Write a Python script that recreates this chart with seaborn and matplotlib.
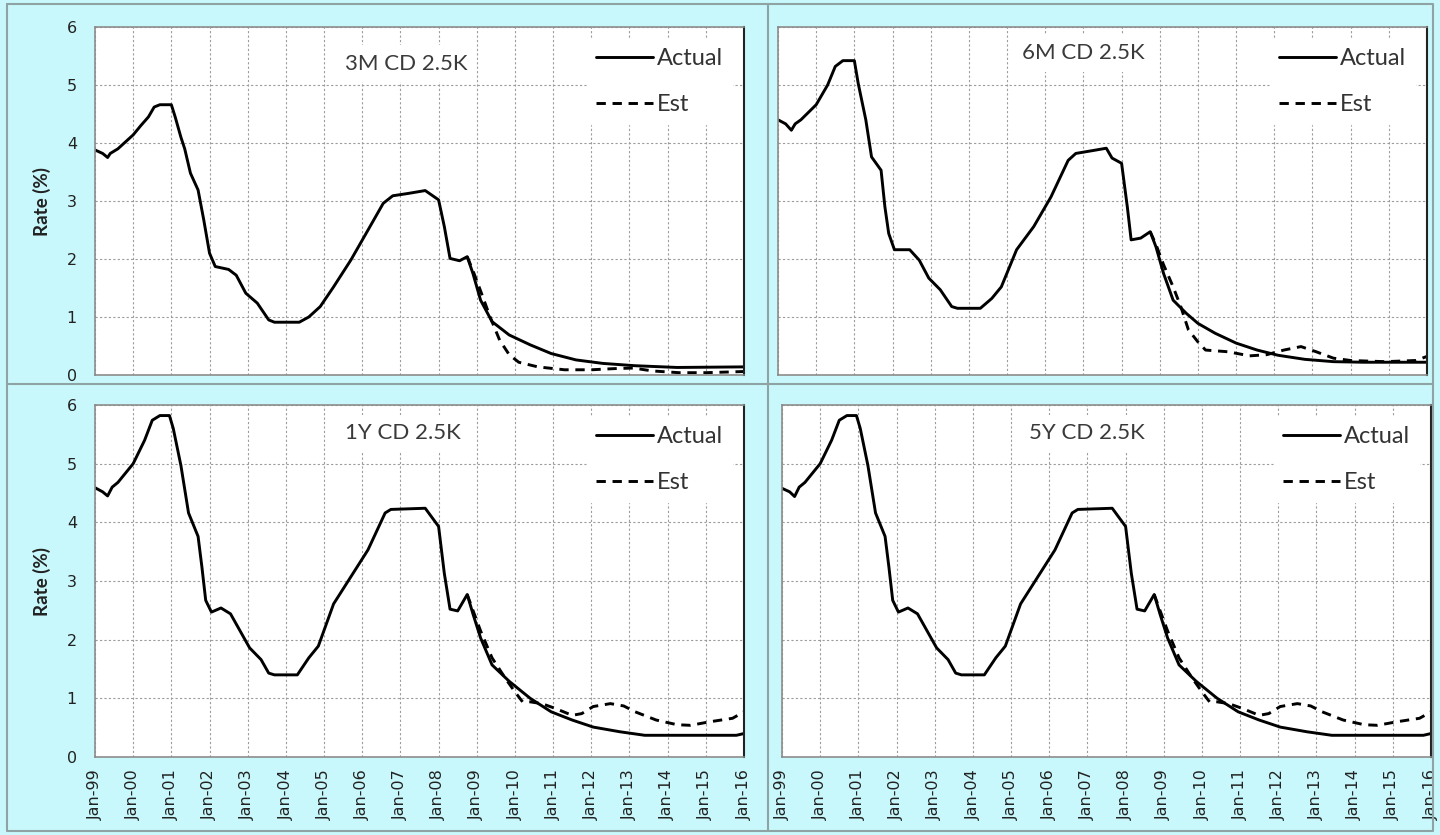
import matplotlib
matplotlib.use("Agg")
import matplotlib.pyplot as plt
from matplotlib.lines import Line2D
import seaborn as sns

# x positions are decimal years (Jan-99 = 1999.0)
t_3m_act = [1999.0, 1999.2, 1999.33, 1999.4, 1999.6, 1999.8, 2000.0, 2000.2, 2000.4, 2000.55, 2000.7, 2001.0,
            2001.1, 2001.25, 2001.35, 2001.5, 2001.7, 2001.85, 2002.0, 2002.15, 2002.5, 2002.7, 2002.95, 2003.25,
            2003.55, 2003.7, 2004.35, 2004.6, 2004.9, 2005.25, 2005.7, 2006.1, 2006.55, 2006.8, 2007.2, 2007.65,
            2008.0, 2008.15, 2008.3, 2008.55, 2008.75, 2008.9, 2009.1, 2009.4, 2009.85, 2010.4, 2010.95, 2011.6,
            2012.3, 2013.15, 2014.25, 2016.0]
r_3m_act = [3.88, 3.82, 3.75, 3.82, 3.9, 4.02, 4.14, 4.3, 4.45, 4.62, 4.66, 4.66,
            4.45, 4.1, 3.9, 3.48, 3.19, 2.67, 2.1, 1.87, 1.82, 1.72, 1.41, 1.24,
            0.95, 0.91, 0.91, 1.0, 1.18, 1.52, 1.98, 2.44, 2.96, 3.09, 3.13, 3.18,
            3.02, 2.56, 2.01, 1.97, 2.04, 1.75, 1.29, 0.92, 0.69, 0.52, 0.37, 0.26,
            0.2, 0.16, 0.13, 0.14]
t_3m_est = [2008.75, 2008.9, 2009.1, 2009.35, 2009.6, 2009.85, 2010.1, 2010.6, 2011.3, 2012.0, 2012.6, 2013.1,
            2013.6, 2014.3, 2015.0, 2016.0]
r_3m_est = [2.04, 1.8, 1.45, 1.0, 0.6, 0.35, 0.22, 0.14, 0.09, 0.09, 0.11, 0.12,
            0.07, 0.04, 0.04, 0.06]

t_6m_act = [1999.0, 1999.2, 1999.35, 1999.45, 1999.6, 2000.0, 2000.3, 2000.5, 2000.7, 2001.0, 2001.1, 2001.3,
            2001.45, 2001.7, 2001.8, 2001.9, 2002.05, 2002.45, 2002.7, 2002.95, 2003.25, 2003.55, 2003.7, 2004.3,
            2004.6, 2004.85, 2005.25, 2005.7, 2006.15, 2006.6, 2006.8, 2007.25, 2007.6, 2007.75, 2008.0, 2008.15,
            2008.25, 2008.5, 2008.75, 2008.9, 2009.1, 2009.35, 2009.7, 2010.0, 2010.45, 2011.0, 2011.55, 2012.1,
            2012.8, 2013.55, 2014.35, 2016.0]
r_6m_act = [4.4, 4.33, 4.22, 4.33, 4.4, 4.66, 5.0, 5.32, 5.42, 5.42, 5.03, 4.4,
            3.76, 3.53, 2.9, 2.44, 2.16, 2.16, 1.98, 1.67, 1.47, 1.18, 1.15, 1.15,
            1.32, 1.52, 2.16, 2.56, 3.07, 3.7, 3.82, 3.87, 3.91, 3.74, 3.65, 2.9,
            2.33, 2.36, 2.47, 2.21, 1.75, 1.29, 1.06, 0.89, 0.72, 0.55, 0.43, 0.34,
            0.27, 0.23, 0.22, 0.22]
t_6m_est = [2008.75, 2008.9, 2009.1, 2009.35, 2009.55, 2009.75, 2010.0, 2010.2, 2010.8, 2011.35, 2011.8, 2012.25,
            2012.7, 2013.1, 2013.55, 2014.0, 2014.9, 2015.7, 2016.0]
r_6m_est = [2.47, 2.25, 1.9, 1.52, 1.18, 0.78, 0.57, 0.43, 0.4, 0.33, 0.35, 0.43,
            0.49, 0.4, 0.29, 0.25, 0.23, 0.25, 0.32]

t_1y_act = [1999.0, 1999.2, 1999.33, 1999.45, 1999.6, 2000.0, 2000.3, 2000.5, 2000.7, 2000.95, 2001.05, 2001.25,
            2001.45, 2001.7, 2001.8, 2001.9, 2002.05, 2002.3, 2002.55, 2002.8, 2003.05, 2003.35, 2003.55, 2003.7,
            2004.3, 2004.6, 2004.85, 2005.25, 2005.7, 2006.15, 2006.6, 2006.75, 2007.65, 2008.0, 2008.15, 2008.3,
            2008.5, 2008.75, 2008.9, 2009.1, 2009.4, 2009.85, 2010.4, 2010.95, 2011.5, 2012.05, 2012.75, 2013.4,
            2014.25, 2015.8, 2016.0]
r_1y_act = [4.59, 4.52, 4.45, 4.6, 4.68, 5.0, 5.4, 5.74, 5.82, 5.82, 5.6, 4.97,
            4.16, 3.76, 3.24, 2.67, 2.47, 2.54, 2.44, 2.15, 1.86, 1.66, 1.43, 1.4,
            1.4, 1.69, 1.89, 2.61, 3.07, 3.53, 4.16, 4.22, 4.24, 3.93, 3.13, 2.52,
            2.49, 2.77, 2.44, 2.03, 1.57, 1.29, 1.0, 0.77, 0.63, 0.51, 0.43, 0.37,
            0.37, 0.37, 0.4]
t_1y_est = [2008.75, 2008.9, 2009.1, 2009.4, 2009.75, 2010.0, 2010.2, 2010.4, 2010.7, 2011.05, 2011.5, 2011.75,
            2012.05, 2012.5, 2012.85, 2013.15, 2013.7, 2014.25, 2014.6, 2015.1, 2015.7, 2016.0]
r_1y_est = [2.77, 2.5, 2.15, 1.69, 1.34, 1.11, 0.94, 0.94, 0.91, 0.83, 0.71, 0.74,
            0.86, 0.91, 0.87, 0.77, 0.63, 0.55, 0.54, 0.6, 0.66, 0.77]

t_5y_act = [1999.0, 1999.2, 1999.33, 1999.45, 1999.6, 2000.0, 2000.3, 2000.5, 2000.7, 2000.95, 2001.05, 2001.25,
            2001.45, 2001.7, 2001.8, 2001.9, 2002.05, 2002.3, 2002.55, 2002.8, 2003.05, 2003.35, 2003.55, 2003.7,
            2004.3, 2004.6, 2004.85, 2005.25, 2005.7, 2006.15, 2006.6, 2006.75, 2007.65, 2008.0, 2008.15, 2008.3,
            2008.5, 2008.75, 2008.9, 2009.1, 2009.4, 2009.85, 2010.4, 2010.95, 2011.5, 2012.05, 2012.75, 2013.4,
            2014.25, 2015.8, 2016.0]
r_5y_act = [4.58, 4.52, 4.44, 4.6, 4.68, 5.0, 5.4, 5.74, 5.82, 5.82, 5.6, 4.97,
            4.16, 3.76, 3.24, 2.67, 2.47, 2.54, 2.44, 2.15, 1.86, 1.66, 1.43, 1.4,
            1.4, 1.69, 1.89, 2.61, 3.07, 3.53, 4.16, 4.22, 4.24, 3.93, 3.13, 2.52,
            2.49, 2.77, 2.44, 2.03, 1.57, 1.29, 1.0, 0.77, 0.63, 0.51, 0.43, 0.37,
            0.37, 0.37, 0.4]
t_5y_est = [2008.75, 2008.9, 2009.1, 2009.4, 2009.75, 2010.0, 2010.2, 2010.4, 2010.7, 2011.05, 2011.5, 2011.75,
            2012.05, 2012.5, 2012.85, 2013.15, 2013.7, 2014.25, 2014.6, 2015.1, 2015.7, 2016.0]
r_5y_est = [2.77, 2.5, 2.15, 1.69, 1.34, 1.11, 0.94, 0.94, 0.91, 0.83, 0.71, 0.74,
            0.86, 0.91, 0.87, 0.77, 0.63, 0.55, 0.54, 0.6, 0.66, 0.77]

titles = ["3M CD 2.5K", "6M CD 2.5K", "1Y CD 2.5K", "5Y CD 2.5K"]
tick_years = [1999, 2000, 2001, 2002, 2003, 2004, 2005, 2006, 2007, 2008,
              2009, 2010, 2011, 2012, 2013, 2014, 2015, 2016]
tick_labels = ["Jan-99", "Jan-00", "Jan-01", "Jan-02", "Jan-03", "Jan-04", "Jan-05", "Jan-06", "Jan-07",
               "Jan-08", "Jan-09", "Jan-10", "Jan-11", "Jan-12", "Jan-13", "Jan-14", "Jan-15", "Jan-16"]
y_ticks = [0, 1, 2, 3, 4, 5, 6]

series = [(t_3m_act, r_3m_act, t_3m_est, r_3m_est),
          (t_6m_act, r_6m_act, t_6m_est, r_6m_est),
          (t_1y_act, r_1y_act, t_1y_est, r_1y_est),
          (t_5y_act, r_5y_act, t_5y_est, r_5y_est)]

sns.set_style("white")
plt.rcParams['font.family'] = ['Lato', 'DejaVu Sans']

W, H = 1440, 835
BG = '#C8F8FB'
fig = plt.figure(figsize=(W / 100, H / 100), dpi=100, facecolor=BG)


def px_box(l, t, r, b):
    return [l / W, 1 - b / H, (r - l) / W, (b - t) / H]


# panel boxes in pixels (left, top, right, bottom)
boxes = [(95, 27, 744, 375), (778, 27, 1427, 375), (95, 405, 744, 757), (782, 405, 1431, 757)]
title_pos = [(0.48, 0.895), (0.47, 0.925), (0.475, 0.92), (0.47, 0.92)]

for i, (t_act, r_act, t_est, r_est) in enumerate(series):
    ax = fig.add_axes(px_box(*boxes[i]))
    ax.set_facecolor('white')
    sns.lineplot(x=t_act, y=r_act, ax=ax, color='black', lw=2.1, label='Actual')
    sns.lineplot(x=t_est, y=r_est, ax=ax, color='black', lw=2.1, linestyle=(0, (3.2, 2.3)), label='Est')

    ax.set_xlim(1999, 2016)
    ax.set_ylim(0, 6)
    ax.set_xticks(tick_years)
    ax.set_yticks(y_ticks)
    ax.grid(True, color='#9c9c9c', linestyle=(0, (2, 2)), lw=0.8)
    ax.set_axisbelow(True)
    ax.tick_params(direction='out', length=5, width=1, color='#8c8c8c')
    ax.tick_params(axis='y', pad=8)
    ax.tick_params(axis='x', pad=4)

    if i >= 2:
        ax.set_xticklabels(tick_labels, rotation=90, fontsize=11.5, family='DejaVu Sans', color='#222222')
    else:
        ax.set_xticklabels([])
    if i % 2 == 0:
        ax.set_yticklabels([str(v) for v in y_ticks], fontsize=11.5, family='DejaVu Sans', color='#222222')
        ax.set_ylabel('Rate (%)', fontsize=13.5, fontweight='bold', labelpad=11, color='#222222')
    else:
        ax.set_yticklabels([])
    ax.set_xlabel('')

    for side in ['left', 'bottom', 'top']:
        ax.spines[side].set_color('#8c8c8c')
        ax.spines[side].set_linewidth(1.2)
    ax.spines['right'].set_color('#222222')
    ax.spines['right'].set_linewidth(1.5)

    tx, ty = title_pos[i]
    ax.text(tx, ty, titles[i], transform=ax.transAxes, ha='center', va='center', fontsize=16,
            color='#3a3a3a', bbox=dict(facecolor='white', edgecolor='none', pad=6))

    leg = ax.legend(loc='upper right', fontsize=17, frameon=True, facecolor='white', edgecolor='white',
                    framealpha=1, fancybox=False, handlelength=2.4, handletextpad=0.15,
                    labelspacing=1.05, borderaxespad=0.5)
    for txt in leg.get_texts():
        txt.set_color('#333333')

# outer frame and panel dividers
frame_col = '#8fa3a5'
fig.add_artist(Line2D([7 / W, 1433 / W, 1433 / W, 7 / W, 7 / W],
                      [1 - 4 / H, 1 - 4 / H, 1 - 831 / H, 1 - 831 / H, 1 - 4 / H],
                      transform=fig.transFigure, color=frame_col, lw=1.5))
fig.add_artist(Line2D([768 / W, 768 / W], [1 - 4 / H, 1 - 831 / H],
                      transform=fig.transFigure, color=frame_col, lw=1.5))
fig.add_artist(Line2D([7 / W, 1433 / W], [1 - 384 / H, 1 - 384 / H],
                      transform=fig.transFigure, color=frame_col, lw=1.5))

fig.savefig('out.png', dpi=100, facecolor=fig.get_facecolor())
